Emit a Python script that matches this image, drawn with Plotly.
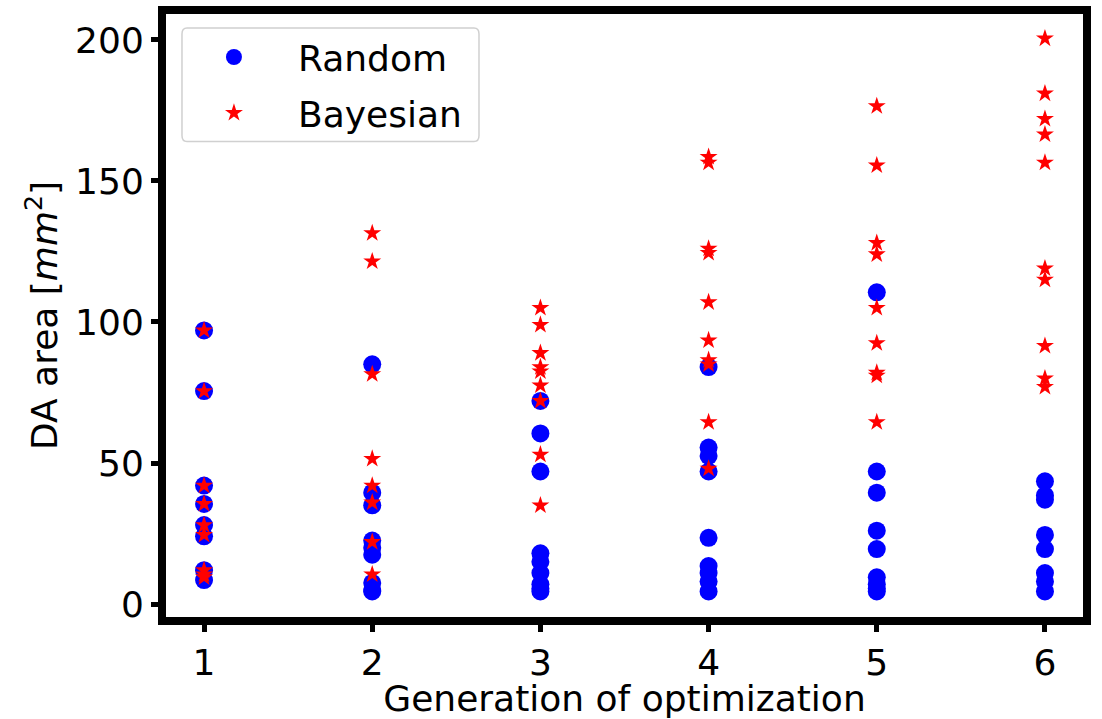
import plotly.graph_objects as go

# Data
generations = [1, 2, 3, 4, 5, 6]

random_vals = {
    1: [97.0, 75.5, 42.0, 35.5, 28.0, 24.0, 12.0, 8.5],
    2: [85.0, 39.5, 35.0, 22.5, 20.0, 17.5, 7.5, 5.0, 4.5],
    3: [72.0, 60.5, 47.0, 18.0, 15.0, 11.0, 7.0, 5.5, 4.5],
    4: [84.0, 55.5, 52.5, 47.0, 23.5, 13.5, 11.0, 8.0, 4.5],
    5: [110.5, 47.0, 39.5, 26.0, 19.5, 9.5, 7.0, 5.5, 4.5],
    6: [43.5, 38.5, 37.0, 24.5, 19.5, 11.0, 8.0, 4.5],
}
bayes_vals = {
    1: [97.0, 75.5, 42.0, 35.5, 28.0, 24.5, 12.0, 10.5, 9.5],
    2: [131.5, 121.5, 81.5, 51.5, 42.0, 36.0, 22.0, 10.5],
    3: [105.0, 99.0, 89.0, 84.0, 82.5, 77.5, 72.0, 53.0, 35.0],
    4: [158.5, 156.5, 126.0, 124.5, 107.0, 93.5, 86.5, 85.0, 64.5, 48.0],
    5: [176.5, 155.5, 128.0, 124.0, 105.0, 92.5, 82.0, 81.0, 64.5],
    6: [200.5, 181.0, 172.0, 166.5, 156.5, 119.0, 115.0, 91.5, 80.0, 77.0],
}
x_ticks = [1, 2, 3, 4, 5, 6]
y_ticks = [0, 50, 100, 150, 200]

rx, ry = [], []
for g in generations:
    for v in random_vals[g]:
        rx.append(g); ry.append(v)
bx, by = [], []
for g in generations:
    for v in bayes_vals[g]:
        bx.append(g); by.append(v)

FONT = "DejaVu Sans"
fig = go.Figure()
fig.add_trace(go.Scatter(x=rx, y=ry, mode="markers", name="Random", legendgroup="r",
                         marker=dict(symbol="circle", size=18, color="#0000ff", line=dict(width=0))))
fig.add_trace(go.Scatter(x=bx, y=by, mode="markers", name="Bayesian", legendgroup="b",
                         marker=dict(symbol="star", size=13.5, color="#ff0000", line=dict(width=0))))

fig.update_layout(
    width=1102, height=719,
    margin=dict(l=162, r=15, t=10, b=98),
    paper_bgcolor="white", plot_bgcolor="white",
    font=dict(family=FONT, size=36, color="black"),
    showlegend=True,
    legend=dict(x=0.0086, y=0.972, xanchor="left", yanchor="top",
                bgcolor="rgba(255,255,255,0)", borderwidth=0,
                font=dict(family=FONT, size=36), itemwidth=118,
                tracegroupgap=6),
    xaxis=dict(range=[0.75, 6.25], tickvals=x_ticks, ticks="outside", ticklen=10,
               tickwidth=4.5, tickcolor="black", showgrid=False, zeroline=False,
               showline=False, automargin=False,
               title=dict(text="Generation of optimization", standoff=6, font=dict(size=36)),
               tickfont=dict(size=36)),
    yaxis=dict(range=[-6.0, 210.6], tickvals=y_ticks, ticks="outside", ticklen=10,
               tickwidth=4.5, tickcolor="black", showgrid=False, zeroline=False,
               showline=False, automargin=False,
               title=dict(text="DA area [<i>mm</i><sup>2</sup>]", standoff=6, font=dict(size=36)),
               tickfont=dict(size=36)),
    shapes=[
        dict(type="rect", xref="paper", yref="paper", x0=0, x1=1, y0=0, y1=1,
             line=dict(color="black", width=8), fillcolor="rgba(0,0,0,0)", layer="above"),
        dict(type="path", xref="paper", yref="paper", layer="below",
             path="M 0.0270,0.9706 L 0.3373,0.9706 Q 0.3427,0.9706 0.3427,0.9608 "
                  "L 0.3427,0.7946 Q 0.3427,0.7848 0.3373,0.7848 L 0.0270,0.7848 "
                  "Q 0.0216,0.7848 0.0216,0.7946 L 0.0216,0.9608 Q 0.0216,0.9706 0.0270,0.9706 Z",
             line=dict(color="#d0d0d0", width=1.5), fillcolor="white"),
    ],
)

fig.write_html("out.html")
